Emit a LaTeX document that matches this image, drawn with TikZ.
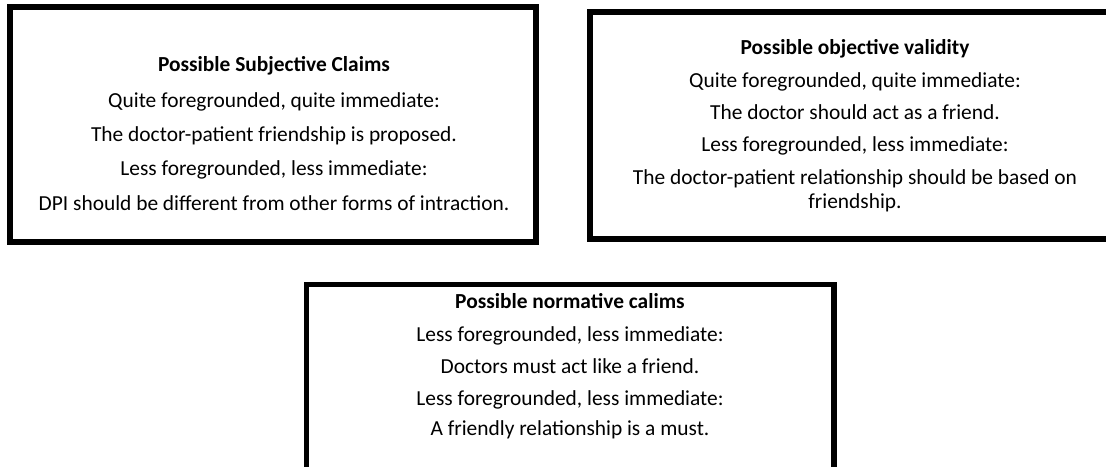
\documentclass[tikz,border=0pt]{standalone}
\usepackage{fontspec}
\setmainfont{Carlito}
\begin{document}
\begin{tikzpicture}[x=1pt,y=1pt,
  box/.style={draw=black,line width=5.5pt,fill=none,inner sep=0pt,outer sep=0pt},
  txt/.style={anchor=base,inner sep=0pt,font=\fontsize{21.4}{23.3}\selectfont},
  ttl/.style={anchor=base,inner sep=0pt,font=\fontsize{21.4}{23.3}\selectfont\bfseries}]
\useasboundingbox (0,0) rectangle (1106,466);
\clip (0,0) rectangle (1106,466);
% boxes
\node[box,minimum width=526,minimum height=235] (b1) at (273,341.5) {};
\node[box,minimum width=525,minimum height=227] (b2) at (852.5,340.5) {};
\node[box,minimum width=527.5,minimum height=190.5] (b3) at (570,86.25) {};
% box 1
\node[ttl] (t1) at (274,394.3) {Possible Subjective Claims};
\node[txt] (t1a) at (274,358) {Quite foregrounded, quite immediate:};
\node[txt] (t1b) at (274,324.5) {The doctor-patient friendship is proposed.};
\node[txt] (t1c) at (274,290) {Less foregrounded, less immediate:};
\node[txt] (t1d) at (274,255.4) {DPI should be different from other forms of intraction.};
% box 2
\node[ttl] (t2) at (855,411) {Possible objective validity};
\node[txt] (t2a) at (855,378.7) {Quite foregrounded, quite immediate:};
\node[txt] (t2b) at (855,346) {The doctor should act as a friend.};
\node[txt] (t2c) at (855,314.3) {Less foregrounded, less immediate:};
\node[txt] (t2d) at (855,281) {The doctor-patient relationship should be based on};
\node[txt] (t2e) at (855,257.7) {friendship.};
% box 3
\node[ttl] (t3) at (570,157.3) {Possible normative calims};
\node[txt] (t3a) at (570,124) {Less foregrounded, less immediate:};
\node[txt] (t3b) at (570,92.3) {Doctors must act like a friend.};
\node[txt] (t3c) at (570,60.7) {Less foregrounded, less immediate:};
\node[txt] (t3d) at (570,30.2) {A friendly relationship is a must.};
\end{tikzpicture}
\end{document}
